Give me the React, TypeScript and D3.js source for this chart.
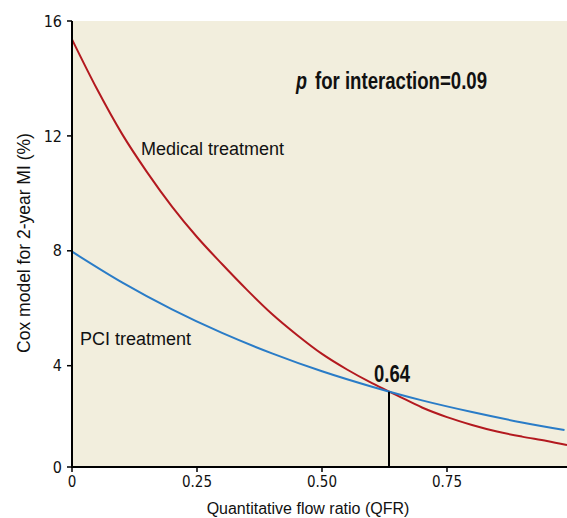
import React from "react";
import * as d3 from "d3";

const xTicks = [0, 0.25, 0.5, 0.75];
const xTickLabels = ["0", "0.25", "0.50", "0.75"];
const yTicks = [0, 4, 8, 12, 16];

const qfrMedical = [0, 0.05, 0.1, 0.15, 0.2, 0.25, 0.3, 0.35, 0.4, 0.45, 0.5, 0.55, 0.6, 0.65, 0.7, 0.75, 0.8, 0.85, 0.9, 0.95, 0.99];
const medical = [15.36, 13.63, 12.07, 10.74, 9.54, 8.48, 7.54, 6.64, 5.8, 5.07, 4.41, 3.85, 3.31, 2.83, 2.35, 1.97, 1.66, 1.4, 1.2, 1.03, 0.87];

const qfrPci = [0, 0.1, 0.2, 0.3, 0.4, 0.5, 0.6, 0.7, 0.8, 0.9, 0.985];
const pci = [7.97, 6.9, 5.96, 5.14, 4.43, 3.78, 3.17, 2.63, 2.17, 1.76, 1.46];

const crossQfr = 0.634;
const crossRisk = 2.97;
const crossLabel = "0.64";

const W = 567;
const H = 518;

export default function App() {
  const x = d3.scaleLinear().domain([0, 0.99]).range([72, 567]);
  const y = d3.scaleLinear().domain([0, 4, 16]).range([467, 365.7, 21]);

  const line = d3
    .line<[number, number]>()
    .x((d) => x(d[0]))
    .y((d) => y(d[1]))
    .curve(d3.curveMonotoneX);

  const medPts = qfrMedical.map((q, i) => [q, medical[i]] as [number, number]);
  const pciPts = qfrPci.map((q, i) => [q, pci[i]] as [number, number]);

  const narrow = "'Liberation Sans Narrow', 'DejaVu Sans Condensed', Arial, sans-serif";
  const sans = "'Liberation Sans', Arial, sans-serif";

  return (
    <svg
      width={W}
      height={H}
      style={{ position: "absolute", left: 0, top: 0, background: "#ffffff" }}
    >
      <rect x={x(0)} y={y(16)} width={x(0.99) - x(0)} height={y(0) - y(16)} fill="#f2eedd" />

      <path d={line(medPts) || ""} fill="none" stroke="#b3191f" strokeWidth={2} />
      <path d={line(pciPts) || ""} fill="none" stroke="#2a7cc7" strokeWidth={2} />

      <line x1={x(crossQfr)} x2={x(crossQfr)} y1={y(0)} y2={y(crossRisk)} stroke="#000" strokeWidth={2} />

      {/* axes */}
      <line x1={x(0)} x2={x(0)} y1={y(16)} y2={y(0) + 1} stroke="#000" strokeWidth={2} />
      <line x1={x(0) - 1} x2={x(0.99)} y1={y(0)} y2={y(0)} stroke="#000" strokeWidth={2} />

      {yTicks.map((t) => (
        <g key={"y" + t}>
          <line x1={x(0) - 5} x2={x(0)} y1={y(t)} y2={y(t)} stroke="#000" strokeWidth={1.5} />
          <text
            x={x(0) - 10}
            y={y(t)}
            dy="0.35em"
            textAnchor="end"
            fontFamily={narrow}
            fontSize={16}
            fill="#111"
          >
            {t}
          </text>
        </g>
      ))}

      {xTicks.map((t, i) => (
        <g key={"x" + t}>
          <line x1={x(t)} x2={x(t)} y1={y(0)} y2={y(0) + 5} stroke="#000" strokeWidth={1.5} />
          <text
            x={x(t)}
            y={487}
            textAnchor="middle"
            fontFamily={narrow}
            fontSize={15}
            fill="#111"
          >
            {xTickLabels[i]}
          </text>
        </g>
      ))}

      <text x={308} y={514} textAnchor="middle" fontFamily={sans} fontSize={16} fill="#111">
        Quantitative flow ratio (QFR)
      </text>
      <text
        transform="translate(30,243) rotate(-90)"
        textAnchor="middle"
        fontFamily={sans}
        fontSize={17.5}
        fill="#111"
      >
        Cox model for 2-year MI (%)
      </text>

      <text x={141} y={155} fontFamily={sans} fontSize={18} fill="#111">
        Medical treatment
      </text>
      <text x={80} y={344.5} fontFamily={sans} fontSize={18} fill="#111">
        PCI treatment
      </text>

      <text
        x={296}
        y={89}
        fontFamily={sans}
        fontSize={23}
        fontWeight="bold"
        fontStyle="italic"
        fill="#111"
        textLength={11}
        lengthAdjust="spacingAndGlyphs"
      >
        p
      </text>
      <text
        x={315}
        y={89}
        fontFamily={sans}
        fontSize={23}
        fontWeight="bold"
        fill="#111"
        textLength={172}
        lengthAdjust="spacingAndGlyphs"
      >
        for interaction=0.09
      </text>

      <text
        x={374}
        y={381.7}
        fontFamily={sans}
        fontSize={23}
        fontWeight="bold"
        fill="#111"
        textLength={36}
        lengthAdjust="spacingAndGlyphs"
      >
        {crossLabel}
      </text>
    </svg>
  );
}
